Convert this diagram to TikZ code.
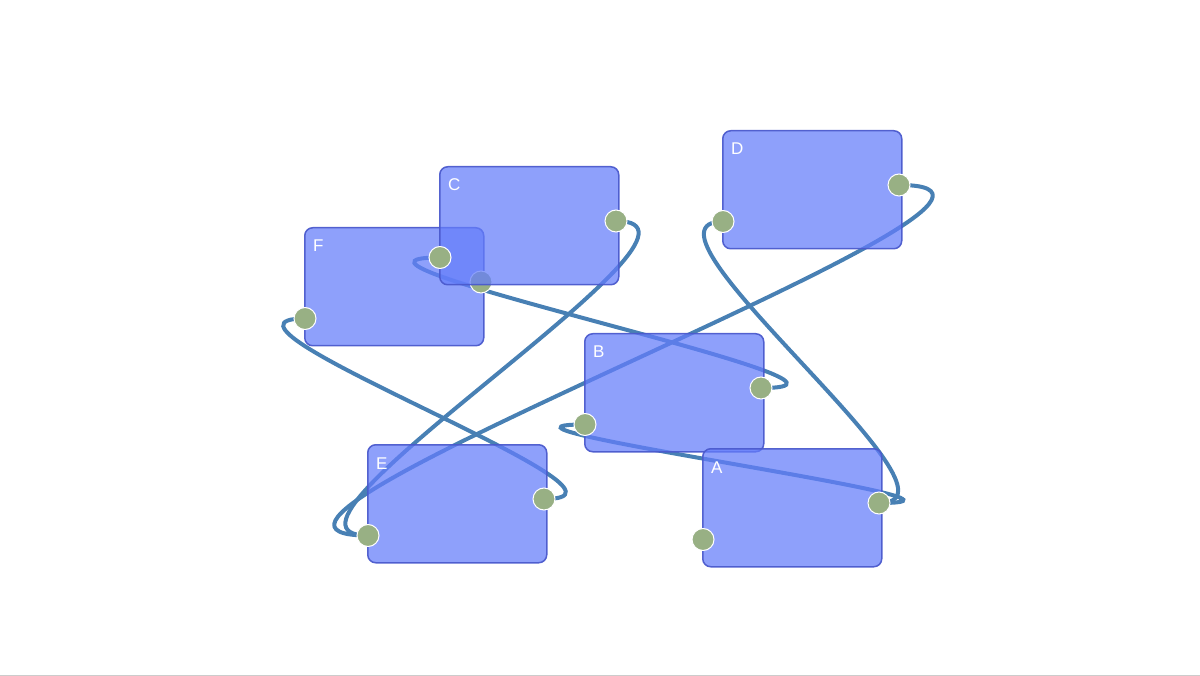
\documentclass[tikz,border=0pt]{standalone}
\usepackage{fontspec}
\setmainfont{Liberation Sans}
\pgfdeclarelayer{links}
\pgfsetlayers{links,main}
\definecolor{boxfill}{RGB}{100,125,250}
\definecolor{boxline}{RGB}{75,90,205}
\definecolor{linkc}{RGB}{72,128,180}
\definecolor{portc}{RGB}{152,176,132}
\definecolor{rulegray}{RGB}{204,204,204}
\tikzset{
  blk/.style={draw=boxline, line width=1.5pt, fill=boxfill, fill opacity=0.73, draw opacity=0.95,
    rounded corners=8pt, minimum width=179pt, minimum height=118pt, inner sep=0pt, anchor=north west},
  lbl/.style={text=white, font=\fontsize{17}{17}\selectfont, anchor=base west, inner sep=0pt},
  port/.style={circle, fill=portc, draw=white, line width=1pt, minimum size=22pt, inner sep=0pt},
  link/.style={draw=linkc, line width=4pt, line cap=round}
}
\newcommand\mkbox[3]{%
  \node[blk] (#1) at (#2,#3) {};
  \node[lbl] (#1t) at (#2+9,#3+25) {#1};
  \node[port] (#1l) at (#2+1,#3+91.5) {};
  \node[port] (#1r) at (#2+177,#3+55) {};
}
\begin{document}
\begin{tikzpicture}[x=1pt,y=-1pt]
\useasboundingbox (0,0) rectangle (1200,676);
\draw[draw=rulegray, line width=1.2pt] (0,675.4) -- (1200,675.4);
\mkbox{F}{304}{227}
\mkbox{C}{439}{166}
\mkbox{B}{584}{333}
\mkbox{A}{702}{448}
\mkbox{D}{722}{130}
\mkbox{E}{367}{444}
\begin{pgfonlayer}{links}
\draw[link] (Cl.center) .. controls +(-160,0) and +(160,0) .. (Br.center);
\draw[link] (Bl.center) .. controls +(-150,0) and +(150,0) .. (Ar.center);
\draw[link] (Fl.center) .. controls +(-130,0) and +(130,0) .. (Er.center);
\draw[link] (Cr.center) .. controls +(135,0) and +(-135,0) .. (El.center);
\draw[link] (Dr.center) .. controls +(225,0) and +(-225,0) .. (El.center);
\draw[link] (Dl.center) .. controls +(-105,0) and +(105,0) .. (Ar.center);
\end{pgfonlayer}
\end{tikzpicture}
\end{document}
